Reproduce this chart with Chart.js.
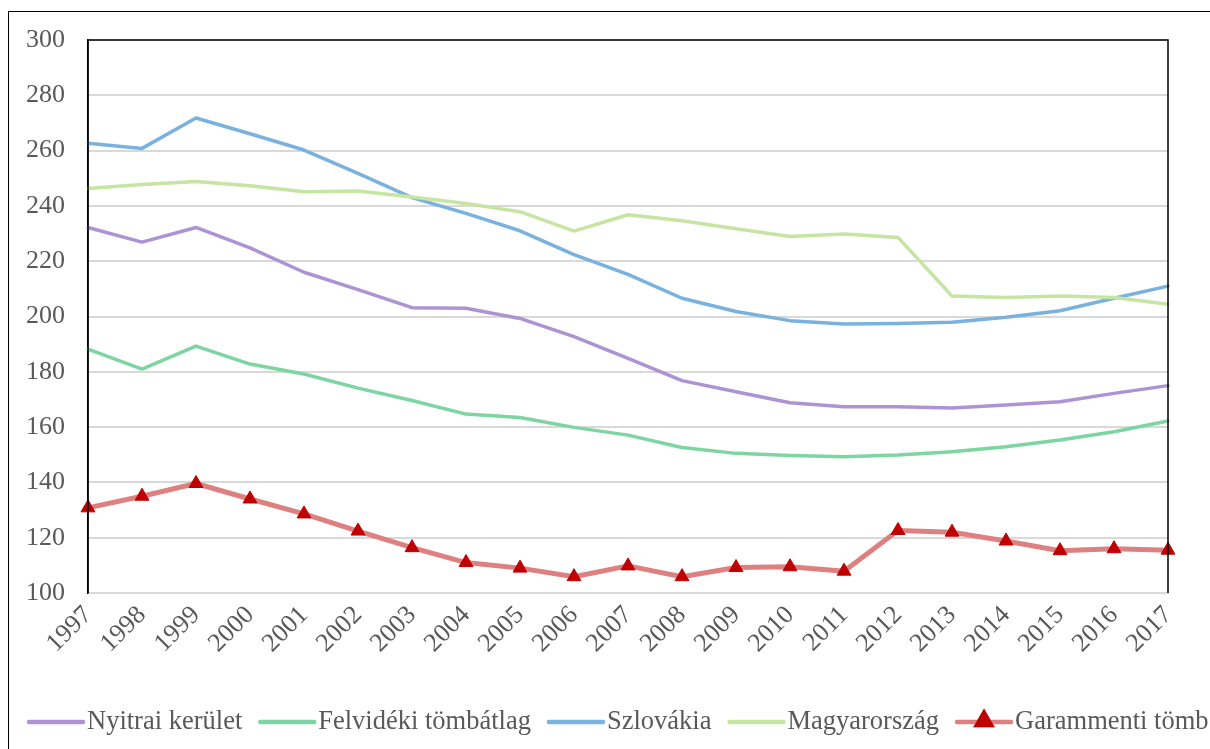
<!DOCTYPE html>
<html lang="hu">
<head>
    <meta charset="UTF-8">
    <title>Garammenti tömb</title>
    <script src="https://cdn.jsdelivr.net/npm/chart.js"></script>
    <style>
        html, body {
            margin: 0;
            padding: 0;
            background: #fff;
            overflow: hidden;
        }
        #frame {
            position: absolute;
            left: 8px;
            top: 11px;
            width: 1400px;
            height: 900px;
            border-left: 1px solid #000;
            border-top: 1px solid #000;
        }
        #chartBox {
            position: absolute;
            left: 0;
            top: 0;
            width: 1210px;
            height: 749px;
        }
    </style>
</head>
<body>
    <div id="frame"></div>
    <div id="chartBox"><canvas id="chart"></canvas></div>

    <script>
        const years = ['1997', '1998', '1999', '2000', '2001', '2002', '2003', '2004', '2005', '2006', '2007',
                       '2008', '2009', '2010', '2011', '2012', '2013', '2014', '2015', '2016', '2017'];
        const nyitrai = [232.2, 226.9, 232.2, 224.8, 216.0, 209.7, 203.2, 203.0, 199.3, 192.7, 184.9,
                         176.8, 172.8, 168.8, 167.4, 167.4, 166.9, 168.0, 169.2, 172.2, 175.0];
        const felvideki = [188.2, 181.0, 189.3, 182.8, 179.2, 174.1, 169.6, 164.7, 163.5, 159.9, 157.1,
                           152.6, 150.5, 149.7, 149.3, 149.9, 151.1, 152.9, 155.3, 158.3, 162.2];
        const szlovakia = [262.7, 260.8, 271.8, 266.1, 260.2, 251.8, 243.0, 237.3, 231.0, 222.4, 215.2,
                           206.6, 201.8, 198.5, 197.3, 197.5, 197.9, 199.7, 202.1, 206.6, 211.0];
        const magyar = [246.3, 247.7, 248.8, 247.3, 245.1, 245.4, 243.2, 240.9, 237.9, 230.9, 236.8,
                        234.6, 231.7, 228.9, 229.8, 228.6, 207.4, 206.9, 207.4, 206.9, 204.4];
        const garam = [130.8, 135.0, 139.6, 134.0, 128.6, 122.4, 116.4, 111.0, 109.0, 105.9, 109.8,
                       105.9, 109.2, 109.5, 107.9, 122.6, 122.0, 118.8, 115.3, 116.0, 115.5];
        const yTicks = [100, 120, 140, 160, 180, 200, 220, 240, 260, 280, 300];

        const fontFamily = '"Liberation Serif", "Times New Roman", serif';
        const textColor = '#595959';

        // black frame on top, left and right of the plot area
        const plotFrame = {
            id: 'plotFrame',
            afterDraw(chart) {
                const {ctx, chartArea: a} = chart;
                ctx.save();
                ctx.strokeStyle = '#000';
                ctx.lineWidth = 1.5;
                ctx.beginPath();
                ctx.moveTo(a.left, a.bottom);
                ctx.lineTo(a.left, a.top);
                ctx.lineTo(a.right, a.top);
                ctx.lineTo(a.right, a.bottom);
                ctx.stroke();
                ctx.restore();
            }
        };

        // legend drawn in one row, like the original (runs past the right edge)
        const rowLegend = {
            id: 'rowLegend',
            afterDraw(chart) {
                const ctx = chart.ctx;
                const y = 722;
                let x = 29;
                ctx.save();
                ctx.font = '26.5px ' + fontFamily;
                ctx.textBaseline = 'middle';
                ctx.fillStyle = textColor;
                chart.data.datasets.forEach(ds => {
                    ctx.strokeStyle = ds.borderColor;
                    ctx.lineWidth = 4.5;
                    ctx.lineCap = 'round';
                    ctx.beginPath();
                    ctx.moveTo(x, y);
                    ctx.lineTo(x + 54, y);
                    ctx.stroke();
                    if (ds.pointRadius > 0) {
                        Chart.helpers.drawPoint(ctx, {
                            pointStyle: ds.pointStyle,
                            radius: ds.pointRadius,
                            borderWidth: 1
                        }, x + 27, y - 1);
                        ctx.fillStyle = ds.pointBackgroundColor;
                        ctx.strokeStyle = ds.pointBorderColor;
                        ctx.fill();
                        ctx.stroke();
                        ctx.fillStyle = textColor;
                    }
                    ctx.fillText(ds.label, x + 58, y);
                    x += 58 + ctx.measureText(ds.label).width + 18;
                });
                ctx.restore();
            }
        };

        const ctx = document.getElementById('chart').getContext('2d');
        new Chart(ctx, {
            type: 'line',
            data: {
                labels: years,
                datasets: [
                    {label: 'Nyitrai kerület', data: nyitrai, borderColor: '#ad93d3', borderWidth: 3.5, pointRadius: 0, order: 5},
                    {label: 'Felvidéki tömbátlag', data: felvideki, borderColor: '#7dd5a1', borderWidth: 3.5, pointRadius: 0, order: 4},
                    {label: 'Szlovákia', data: szlovakia, borderColor: '#79b2de', borderWidth: 3.5, pointRadius: 0, order: 3},
                    {label: 'Magyarország', data: magyar, borderColor: '#c6e5a2', borderWidth: 3.5, pointRadius: 0, order: 2},
                    {label: 'Garammenti tömb', data: garam, borderColor: '#df8080', borderWidth: 5,
                     pointStyle: 'triangle', pointRadius: 8, pointBackgroundColor: '#c00000',
                     pointBorderColor: '#c00000', pointBorderWidth: 1, order: 1}
                ]
            },
            options: {
                responsive: true,
                maintainAspectRatio: false,
                animation: false,
                events: [],
                layout: {
                    padding: {left: 25, right: 42, top: 40, bottom: 90}
                },
                elements: {
                    line: {tension: 0, borderCapStyle: 'round', borderJoinStyle: 'round'}
                },
                plugins: {
                    legend: {display: false},
                    tooltip: {enabled: false}
                },
                scales: {
                    x: {
                        offset: false,
                        grid: {display: false, drawTicks: false},
                        border: {color: '#d9d9d9', width: 2},
                        ticks: {
                            minRotation: 45,
                            maxRotation: 45,
                            padding: 7,
                            color: textColor,
                            font: {family: fontFamily, size: 26}
                        },
                        afterFit: s => { s.height = 66; }
                    },
                    y: {
                        min: 100,
                        max: 300,
                        afterBuildTicks: s => { s.ticks = yTicks.map(v => ({value: v})); },
                        grid: {color: '#d9d9d9', lineWidth: 2, drawTicks: false},
                        border: {color: '#000', width: 1.5},
                        ticks: {
                            padding: 23,
                            color: textColor,
                            font: {family: fontFamily, size: 26}
                        },
                        afterFit: s => { s.width = 63; }
                    }
                }
            },
            plugins: [plotFrame, rowLegend]
        });
    </script>
</body>
</html>
